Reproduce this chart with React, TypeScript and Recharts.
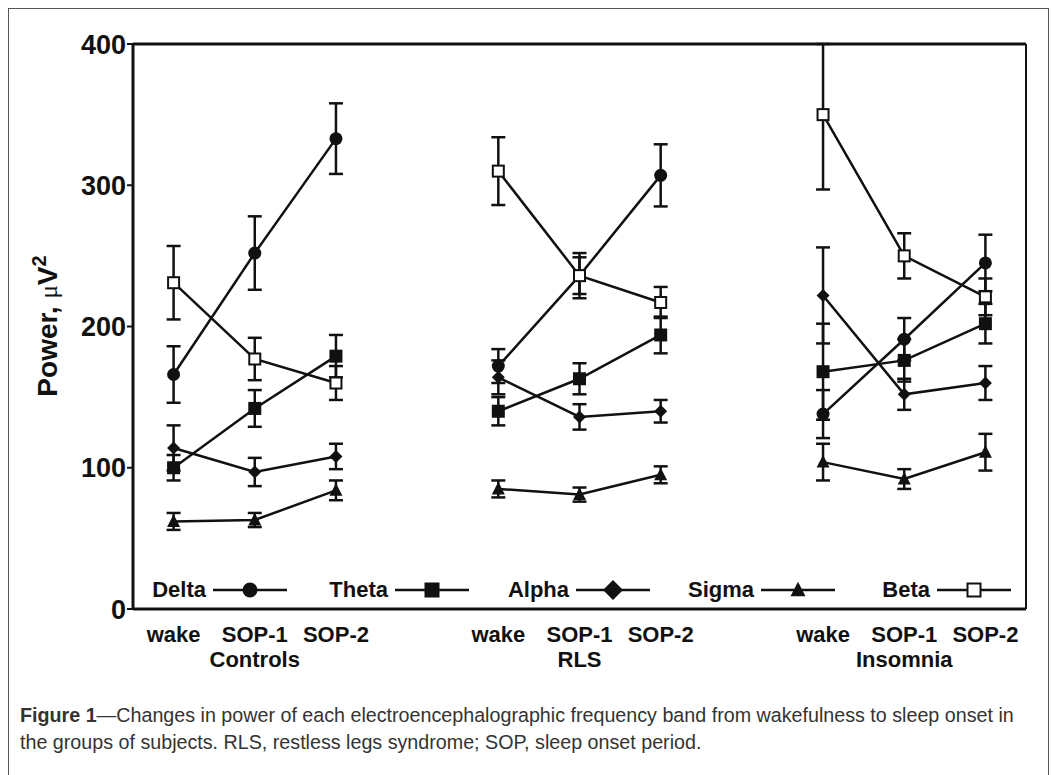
import { ComposedChart, Line, XAxis, YAxis, ErrorBar, ReferenceLine } from 'recharts';

// x slots: three phases per group, one empty slot between groups
const phases = ['wake', 'SOP-1', 'SOP-2'];
const groups = ['Controls', 'RLS', 'Insomnia'];
const xSlots = [0, 1, 2, 4, 5, 6, 8, 9, 10];
const yTicks = [0, 100, 200, 300, 400];
const Y_MAX = 400;

// mean power (µV²), order: Controls wake..SOP-2, RLS wake..SOP-2, Insomnia wake..SOP-2
const delta = [166, 252, 333, 172, 236, 307, 138, 191, 245];
const deltaSem = [20, 26, 25, 12, 13, 22, 17, 15, 20];
const theta = [100, 142, 179, 140, 163, 194, 168, 176, 202];
const thetaSem = [9, 13, 15, 10, 11, 13, 34, 15, 14];
const alpha = [114, 97, 108, 164, 136, 140, 222, 152, 160];
const alphaSem = [16, 10, 9, 12, 9, 8, 34, 11, 12];
const sigma = [62, 63, 84, 85, 81, 95, 104, 92, 111];
const sigmaSem = [6, 5, 7, 6, 5, 6, 13, 7, 13];
const beta = [231, 177, 160, 310, 236, 217, 350, 250, 221];
const betaSem = [26, 15, 12, 24, 16, 11, 53, 16, 13];

const bandNames = ['Delta', 'Theta', 'Alpha', 'Sigma', 'Beta'];
const bandKeys = ['delta', 'theta', 'alpha', 'sigma', 'beta'];
const bandShapes = ['circle', 'square', 'diamond', 'triangle', 'open'];
const bandValues = [delta, theta, alpha, sigma, beta];
const bandSems = [deltaSem, thetaSem, alphaSem, sigmaSem, betaSem];

const rows: Record<string, any>[] = [];
for (let x = 0; x <= 10; x++) {
  const k = xSlots.indexOf(x);
  const row: Record<string, any> = { x };
  if (k >= 0) {
    bandKeys.forEach((key, b) => {
      const v = bandValues[b][k];
      const e = bandSems[b][k];
      row[key] = v;
      // upper whisker is cut off at the top of the frame, like the original
      row[key + 'Err'] = [e, Math.min(e, Y_MAX - v)];
    });
  }
  rows.push(row);
}

const INK = '#111';
const FONT = 'Arial, "Liberation Sans", Helvetica, sans-serif';

const marker = (shape: string, cx: number, cy: number, s: number) => {
  switch (shape) {
    case 'circle':
      return <circle cx={cx} cy={cy} r={s * 0.5} fill={INK} />;
    case 'square':
      return <rect x={cx - s / 2} y={cy - s / 2} width={s} height={s} fill={INK} />;
    case 'diamond':
      return (
        <polygon
          points={`${cx},${cy - s / 2} ${cx + s / 2},${cy} ${cx},${cy + s / 2} ${cx - s / 2},${cy}`}
          fill={INK}
        />
      );
    case 'triangle':
      return (
        <polygon
          points={`${cx},${cy - s * 0.55} ${cx + s / 2},${cy + s * 0.42} ${cx - s / 2},${cy + s * 0.42}`}
          fill={INK}
        />
      );
    default:
      return (
        <rect x={cx - s / 2} y={cy - s / 2} width={s} height={s} fill="#fff" stroke={INK} strokeWidth={2} />
      );
  }
};

const dataSize: Record<string, number> = { circle: 13, square: 13, diamond: 13, triangle: 13, open: 11 };
const legendSize: Record<string, number> = { circle: 15, square: 15, diamond: 20, triangle: 15, open: 13 };

const makeDot = (shape: string) => (props: any) => {
  const { cx, cy, index } = props;
  if (cx == null || cy == null || props.value == null) return <g key={index} />;
  return <g key={index}>{marker(shape, cx, cy, dataSize[shape])}</g>;
};

const XTick = (props: any) => {
  const { x, y, payload } = props;
  const k = xSlots.indexOf(payload.value);
  if (k < 0) return <g />;
  const group = k % 3 === 1 ? groups[Math.floor(k / 3)] : null;
  return (
    <g>
      <text x={x} y={y + 33} textAnchor="middle" fontSize={22} fontWeight="bold" fill={INK} fontFamily={FONT}>
        {phases[k % 3]}
      </text>
      {group && (
        <text x={x} y={y + 58} textAnchor="middle" fontSize={22} fontWeight="bold" fill={INK} fontFamily={FONT}>
          {group}
        </text>
      )}
    </g>
  );
};

const YLabel = () => (
  <text
    transform="translate(57, 326) rotate(-90)"
    textAnchor="middle"
    fontSize={28}
    fontWeight="bold"
    fill={INK}
    fontFamily={FONT}
  >
    Power,{' '}
    <tspan fontFamily='"Liberation Serif", serif' fontWeight="normal" fontSize={25}>
      μ
    </tspan>
    <tspan>V</tspan>
    <tspan fontSize={20} dy={-11}>
      2
    </tspan>
  </text>
);

// legend marker centres along the bottom of the plot
const legendX = [250, 432, 613, 798, 974];

const App = () => {
  return (
    <div
      style={{
        position: 'absolute',
        left: 0,
        top: 0,
        width: 1054,
        height: 775,
        overflow: 'hidden',
        background: '#fff',
        fontFamily: FONT,
      }}
    >
      <div
        style={{
          position: 'absolute',
          left: 8,
          top: 8,
          width: 1039,
          height: 800,
          border: '1.5px solid #555',
        }}
      />
      <div style={{ position: 'absolute', left: 0, top: 0 }}>
        <ComposedChart width={1054} height={680} data={rows} margin={{ top: 44, right: 28, left: 53, bottom: 0 }}>
          <XAxis
            type="number"
            dataKey="x"
            domain={[-0.5, 10.5]}
            ticks={xSlots}
            interval={0}
            tickLine={false}
            tickSize={0}
            tickMargin={0}
            height={71}
            axisLine={{ stroke: INK, strokeWidth: 3 }}
            tick={<XTick />}
          />
          <YAxis
            type="number"
            domain={[0, Y_MAX]}
            ticks={yTicks}
            allowDataOverflow
            width={80}
            tickSize={6}
            tickMargin={1}
            axisLine={{ stroke: INK, strokeWidth: 3 }}
            tickLine={{ stroke: INK, strokeWidth: 2 }}
            tick={{ fontSize: 27, fontWeight: 'bold', fill: INK, fontFamily: FONT }}
            label={<YLabel />}
          />
          {bandKeys.map((key, b) => (
            <Line
              key={key}
              dataKey={key}
              name={bandNames[b]}
              stroke={INK}
              strokeWidth={2.5}
              connectNulls={false}
              dot={makeDot(bandShapes[b])}
              activeDot={false}
              isAnimationActive={false}
            >
              <ErrorBar dataKey={key + 'Err'} direction="y" width={7} stroke={INK} strokeWidth={2.5} />
            </Line>
          ))}
          <ReferenceLine y={Y_MAX} stroke={INK} strokeWidth={3} />
          <ReferenceLine x={10.5} stroke={INK} strokeWidth={2} />
        </ComposedChart>
      </div>

      {bandNames.map((name, b) => (
        <div key={name}>
          <div
            style={{
              position: 'absolute',
              left: legendX[b] - 144,
              width: 100,
              top: 576,
              textAlign: 'right',
              fontSize: 22,
              fontWeight: 'bold',
              color: INK,
              lineHeight: '28px',
            }}
          >
            {name}
          </div>
          <svg style={{ position: 'absolute', left: legendX[b] - 38, top: 578 }} width={76} height={24}>
            <line x1={1} y1={12} x2={75} y2={12} stroke={INK} strokeWidth={2.5} />
            {marker(bandShapes[b], 38, 12, legendSize[bandShapes[b]])}
          </svg>
        </div>
      ))}

      <div
        style={{
          position: 'absolute',
          left: 20,
          top: 702,
          fontSize: 19.7,
          lineHeight: '27px',
          color: '#333',
          whiteSpace: 'nowrap',
        }}
      >
        <b>Figure 1</b>—Changes in power of each electroencephalographic frequency band from wakefulness to sleep onset in
        <br />
        the groups of subjects. RLS, restless legs syndrome; SOP, sleep onset period.
      </div>
    </div>
  );
};

export default App;
